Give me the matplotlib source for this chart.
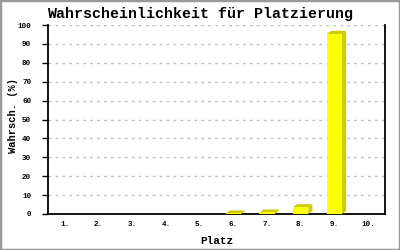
import matplotlib
matplotlib.use("Agg")
import matplotlib.pyplot as plt
from matplotlib.patches import Polygon, Rectangle

places = [1, 2, 3, 4, 5, 6, 7, 8, 9, 10]
place_labels = ["1.", "2.", "3.", "4.", "5.", "6.", "7.", "8.", "9.", "10."]
prob = [0, 0, 0, 0, 0, 0.3, 0.8, 3.6, 95.3, 0]

FRONT = "#ffff00"
SIDE = "#cccc00"
MONO = "Liberation Mono"

fig = plt.figure(figsize=(4, 2.5), dpi=100)
fig.patches.append(Rectangle((0, 0), 1, 1, transform=fig.transFigure,
                             fill=False, edgecolor="#999999", linewidth=2.5))
ax = fig.add_axes([0.12, 0.144, 0.8425, 0.756])

ax.set_xlim(0.5, 10.5)
ax.set_ylim(0, 100)

# pseudo-3D bars: depth of ~4px right / 3px up
w = 0.45
dx, dy = 0.12, 1.6
for x, h in zip(places, prob):
    if h <= 0:
        continue
    x0, x1 = x - w / 2, x + w / 2
    ax.add_patch(Polygon([(x1, 0), (x1 + dx, dy), (x1 + dx, h + dy), (x1, h)],
                         closed=True, facecolor=SIDE, edgecolor="none", zorder=3))
    ax.add_patch(Polygon([(x0, h), (x1, h), (x1 + dx, h + dy), (x0 + dx, h + dy)],
                         closed=True, facecolor=SIDE, edgecolor="none", zorder=3))
    ax.bar(x, h, width=w, color=FRONT, edgecolor="none", zorder=4)

ax.set_yticks(range(0, 101, 10))
ax.set_xticks(places)
ax.set_xticklabels(place_labels)
ax.yaxis.grid(True, color="#c0c0c0", linestyle=(0, (2, 3)), linewidth=1)
ax.set_axisbelow(True)

ax.spines["top"].set_visible(False)
for s in ["left", "right", "bottom"]:
    ax.spines[s].set_linewidth(1.3)
    ax.spines[s].set_color("black")

ax.tick_params(axis="y", length=4, width=1, pad=8, labelsize=5.5)
ax.tick_params(axis="x", length=0, pad=5, labelsize=5.5)
for lab in ax.get_xticklabels() + ax.get_yticklabels():
    lab.set_fontfamily(MONO)
    lab.set_fontweight("bold")

ax.set_xlabel("Platz", fontfamily=MONO, fontweight="bold", fontsize=8, labelpad=6)
ax.set_ylabel("Wahrsch. (%)", fontfamily=MONO, fontweight="bold", fontsize=7.5)
ax.yaxis.set_label_coords(-0.09, 0.52)
fig.text(0.5, 0.945, "Wahrscheinlichkeit für Platzierung", ha="center", va="center",
         fontfamily=MONO, fontweight="bold", fontsize=10.8)

fig.savefig("out.png", dpi=100)
